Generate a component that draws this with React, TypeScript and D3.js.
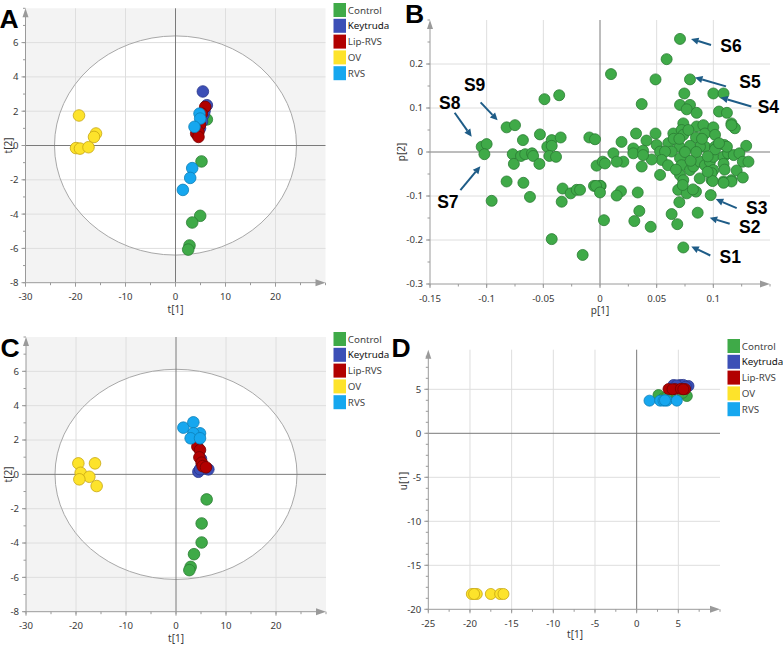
import React from "react";
import * as d3 from "d3";

type Pt = [number, number];

const groups = ["Control", "Keytruda", "Lip-RVS", "OV", "RVS"];
const groupFill = ["#3faa48", "#3c4fb6", "#b20000", "#fde32b", "#16a7ef"];
const groupStroke = ["#2b7c33", "#27358a", "#760000", "#c7a612", "#0d7fb8"];

// Scores, model 1 (t[1], t[2])
const scoresA_Control: Pt[] = [[6.27, 1.52], [5.2, -0.93], [4.94, -4.1], [3.34, -4.49], [2.8, -5.83], [2.54, -6.07]];
const scoresA_Keytruda: Pt[] = [[5.47, 3.15], [6.27, 2.35], [5.6, 1.8], [5.3, 1.4], [5.8, 2.0], [4.9, 1.0]];
const scoresA_LipRVS: Pt[] = [[5.94, 2.25], [5.27, 1.86], [4.9, 1.2], [4.14, 0.7], [4.6, 0.8], [4.6, 0.5]];
const scoresA_OV: Pt[] = [[-19.3, 1.75], [-15.9, 0.7], [-16.3, 0.5], [-19.9, -0.15], [-19.1, -0.18], [-17.4, -0.1]];
const scoresA_RVS: Pt[] = [[4.8, 1.86], [4.94, 1.57], [3.8, 1.09], [3.34, -1.32], [2.94, -1.89], [1.47, -2.59]];

// Scores, model 2 (t[1], t[2])
const scoresC_Control: Pt[] = [[6.13, -1.46], [5.13, -2.86], [5.13, -3.97], [3.6, -4.65], [2.93, -5.39], [2.67, -5.58]];
const scoresC_Keytruda: Pt[] = [[4.47, 0.15], [6.47, 0.29], [5.2, 0.6], [5.6, 0.35], [5.0, 0.9], [4.8, 0.3]];
const scoresC_LipRVS: Pt[] = [[4.27, 1.61], [4.8, 1.42], [4.67, 0.99], [5.13, 0.68], [5.33, 0.48], [6.0, 0.41]];
const scoresC_OV: Pt[] = [[-19.53, 0.64], [-16.2, 0.64], [-19.07, 0.09], [-17.33, -0.14], [-19.33, -0.29], [-15.87, -0.68]];
const scoresC_RVS: Pt[] = [[1.47, 2.72], [3.47, 3.03], [4.8, 2.39], [3.47, 2.39], [2.93, 2.1], [4.8, 2.1]];

// t[1] vs u[1]
const scoresD_Control: Pt[] = [[2.62, 4.35], [6.02, 4.24], [3.22, 3.98], [4.0, 4.5], [5.5, 4.6], [3.6, 4.1]];
const scoresD_Keytruda: Pt[] = [[4.42, 5.49], [5.22, 5.49], [6.22, 5.38], [5.6, 5.5], [4.8, 5.45], [5.9, 5.3]];
const scoresD_LipRVS: Pt[] = [[3.82, 5.03], [4.62, 5.03], [5.82, 5.03], [4.3, 5.0], [5.3, 5.05], [5.6, 5.0]];
const scoresD_OV: Pt[] = [[-19.78, -18.26], [-19.18, -18.26], [-17.5, -18.26], [-16.38, -18.26], [-15.98, -18.26], [-19.5, -18.26]];
const scoresD_RVS: Pt[] = [[1.54, 3.71], [2.82, 3.71], [3.22, 3.71], [3.62, 3.71], [4.82, 3.71], [3.4, 3.75]];

// Loadings (p[1], p[2])
const loadings: Pt[] = [
  [-0.1044, 0.012], [-0.1, 0.018], [-0.102, -0.005], [-0.0956, -0.111], [-0.0824, 0.056], [-0.075, 0.061],
  [-0.077, -0.005], [-0.076, -0.027], [-0.068, 0.027], [-0.0697, -0.009], [-0.066, -0.005], [-0.06, -0.003],
  [-0.059, -0.009], [-0.0535, -0.027], [-0.053, 0.04], [-0.049, 0.12], [-0.036, 0.129], [-0.0465, 0.012],
  [-0.0426, 0.027], [-0.0426, 0.014], [-0.0447, -0.009], [-0.0388, -0.011], [-0.0347, 0.033], [-0.0824, -0.067],
  [-0.0676, -0.07], [-0.0618, -0.102], [-0.033, -0.083], [-0.0338, -0.113], [-0.0259, -0.094], [-0.0206, -0.086],
  [-0.0426, -0.198], [-0.0153, -0.234], [-0.0094, 0.033], [-0.0044, 0.029], [-0.003, -0.031], [0.0024, -0.022],
  [-0.0053, -0.077], [0.0006, -0.077], [-0.0176, -0.086], [0.0035, -0.155],
  [0.0706, 0.257], [0.0588, 0.211], [0.0097, 0.177], [0.049, 0.165], [0.0794, 0.165], [0.0368, 0.109],
  [0.0744, 0.133], [0.0706, 0.107], [0.0794, 0.107], [0.0765, 0.097], [0.0853, 0.089], [0.1, 0.133],
  [0.109, 0.133], [0.105, 0.092], [0.112, 0.089], [0.116, 0.065], [0.119, 0.054], [0.019, 0.023],
  [0.0318, 0.042], [0.049, 0.042], [0.041, 0.026], [0.0294, 0.008], [0.0294, -0.003], [0.038, 0.003],
  [0.05, 0.016], [0.053, 0.001], [0.0603, 0.02], [0.0647, 0.042], [0.0735, 0.065], [0.072, 0.05],
  [0.0735, 0.039], [0.0853, 0.058], [0.0912, 0.061], [0.0847, 0.033], [0.0926, 0.042], [0.1, 0.056],
  [0.1015, 0.039], [0.1097, 0.016], [0.0926, 0.012], [0.1015, 0.012], [0.0882, 0.012], [0.0794, 0.014],
  [0.07, 0.012], [0.0632, 0.001], [0.0574, 0.001], [0.0544, -0.018], [0.0456, -0.017], [0.038, -0.007],
  [0.0206, -0.022], [0.0118, -0.003], [0.0147, -0.022], [0.0044, -0.026], [0.0368, -0.033], [0.053, -0.052],
  [0.0706, -0.014], [0.072, -0.03], [0.0706, -0.052], [0.0735, -0.064], [0.0794, -0.041], [0.0824, -0.033],
  [0.0882, -0.022], [0.0926, -0.03], [0.097, -0.022], [0.1, -0.041], [0.0985, -0.064], [0.1, -0.011],
  [0.109, -0.011], [0.113, -0.003], [0.109, -0.067], [0.116, -0.064], [0.069, -0.086], [0.0765, -0.094],
  [0.0847, -0.09], [0.0977, -0.098], [0.07, -0.114], [0.0862, -0.138], [0.0632, -0.141], [0.0682, -0.164],
  [0.0447, -0.17], [0.0347, -0.134], [0.0303, -0.157], [0.0333, -0.092], [0.0185, -0.089], [0.0147, -0.099],
  [0, -0.077], [-0.0035, -0.077], [0, -0.092], [0.0735, -0.217],
  [0.129, 0.014], [0.116, 0.061], [0.118, -0.007], [0.123, -0.003], [0.126, -0.022], [0.131, -0.022],
  [0.1206, -0.042], [0.126, -0.058], [0.116, -0.067], [0.109, -0.07], [0.112, 0.012], [0.1015, 0.006],
  [0.0985, -0.048], [0.0994, -0.066], [0.109, -0.027],
  [0.065, 0.03], [0.075, 0.0], [0.08, -0.02], [0.085, 0.0], [0.06, -0.03], [0.09, 0.03], [0.095, -0.01],
  [0.07, 0.03], [0.078, 0.05], [0.067, -0.04], [0.105, 0.02], [0.11, -0.04], [0.088, -0.06], [0.095, -0.045],
  [0.073, -0.075], [0.082, -0.085],
];

// Highlighted loadings
const highlightNames = ["S1", "S2", "S3", "S4", "S5", "S6", "S7", "S8", "S9"];
const highlightPoints: Pt[] = [
  [0.0735, -0.217], [0.0862, -0.138], [0.0977, -0.098], [0.1, 0.133], [0.0794, 0.165],
  [0.0706, 0.257], [-0.102, -0.005], [-0.1044, 0.012], [-0.0824, 0.056],
];
// arrow tip, arrow tail, label centre as pixel offsets from the marked point
const highlightLayout: { tip: Pt; tail: Pt; text: Pt }[] = [
  { tip: [8, -1], tail: [27, 8], text: [47, 9] },
  { tip: [12, 5], tail: [32, 11], text: [52, 13.5] },
  { tip: [5, 4], tail: [26, 13], text: [46, 12.5] },
  { tip: [7, 4], tail: [38, 13], text: [55, 13] },
  { tip: [5, -2], tail: [36, 7], text: [60, 2] },
  { tip: [11, 0], tail: [31, 6], text: [51, 7] },
  { tip: [-4, 12], tail: [-24, 36], text: [-36.5, 47] },
  { tip: [-10, -10], tail: [-27, -34], text: [-32, -44] },
  { tip: [-9, -7], tail: [-26, -25], text: [-32, -43] },
];

const range = (a: number, b: number, s: number) => d3.range(a, b + s / 2, s).map((v) => +v.toFixed(6));

const FONT = "'Noto Sans', 'Open Sans', sans-serif";

interface AxisSpec {
  domain: [number, number];
  range: [number, number];
  major: number[];
  minor: number[];
  grid: number[];
  fmt: (v: number) => string;
  label: string;
  labelPos: Pt;
}

interface Series { data: Pt[]; fill: string; stroke: string }

function Panel(props: {
  x: AxisSpec;
  y: AxisSpec;
  shaded?: boolean;
  ellipse?: Pt;
  series: Series[];
  r: number;
  children?: React.ReactNode;
}) {
  const { x, y, shaded, ellipse, series, r } = props;
  const xs = d3.scaleLinear().domain(x.domain).range(x.range);
  const ys = d3.scaleLinear().domain(y.domain).range(y.range);
  const [x0, x1] = x.range;
  const [yB, yT] = y.range;
  const axisCol = "#9a9a9a";
  const gridCol = "#dedede";
  const zeroCol = "#7a7a7a";
  return (
    <g>
      {shaded && <rect x={x0} y={yT} width={x1 - x0} height={yB - yT} fill="#f3f3f3" />}
      {ellipse && (
        <ellipse cx={xs(0)} cy={ys(0)} rx={xs(ellipse[0]) - xs(0)} ry={ys(0) - ys(ellipse[1])} fill="#ffffff" />
      )}
      {x.grid.map((v) => (
        <line key={"gx" + v} x1={xs(v)} x2={xs(v)} y1={yB} y2={yT} stroke={gridCol} strokeWidth={1} />
      ))}
      {y.grid.map((v) => (
        <line key={"gy" + v} x1={x0} x2={x1} y1={ys(v)} y2={ys(v)} stroke={gridCol} strokeWidth={1} />
      ))}
      {ellipse && (
        <ellipse cx={xs(0)} cy={ys(0)} rx={xs(ellipse[0]) - xs(0)} ry={ys(0) - ys(ellipse[1])} fill="none" stroke="#a8a8a8" strokeWidth={1} />
      )}
      <line x1={xs(0)} x2={xs(0)} y1={yB} y2={yT} stroke={zeroCol} strokeWidth={1} />
      <line x1={x0} x2={x1} y1={ys(0)} y2={ys(0)} stroke={zeroCol} strokeWidth={1} />
      {/* axes */}
      <line x1={x0} x2={x1 - 4} y1={yB} y2={yB} stroke={axisCol} strokeWidth={1} />
      <polygon points={`${x1},${yB} ${x1 - 10},${yB - 3.5} ${x1 - 10},${yB + 3.5}`} fill={axisCol} />
      <line x1={x0} x2={x0} y1={yB} y2={yT + 4} stroke={axisCol} strokeWidth={1} />
      <polygon points={`${x0},${yT} ${x0 - 3},${yT + 9} ${x0 + 3},${yT + 9}`} fill={axisCol} />
      {x.minor.map((v) => (
        <line key={"mx" + v} x1={xs(v)} x2={xs(v)} y1={yB} y2={yB + 2.5} stroke={axisCol} />
      ))}
      {x.major.map((v) => (
        <line key={"tx" + v} x1={xs(v)} x2={xs(v)} y1={yB} y2={yB + 4} stroke={axisCol} />
      ))}
      {y.minor.map((v) => (
        <line key={"my" + v} x1={x0 - 2.5} x2={x0} y1={ys(v)} y2={ys(v)} stroke={axisCol} />
      ))}
      {y.major.map((v) => (
        <line key={"ty" + v} x1={x0 - 4} x2={x0} y1={ys(v)} y2={ys(v)} stroke={axisCol} />
      ))}
      {x.major.map((v) => (
        <text key={"lx" + v} x={xs(v)} y={yB + 17.5} fontSize={9.6} fill="#3a3a3a" textAnchor="middle" fontFamily={FONT}>
          {x.fmt(v)}
        </text>
      ))}
      {y.major.map((v) => (
        <text key={"ly" + v} x={x0 - 7} y={ys(v) + 3.4} fontSize={9.6} fill="#3a3a3a" textAnchor="end" fontFamily={FONT}>
          {y.fmt(v)}
        </text>
      ))}
      <text x={x.labelPos[0]} y={x.labelPos[1]} fontSize={10} fill="#3a3a3a" textAnchor="middle" fontFamily={FONT}>
        {x.label}
      </text>
      <text
        transform={`translate(${y.labelPos[0]},${y.labelPos[1]}) rotate(-90)`}
        fontSize={10}
        fill="#3a3a3a"
        textAnchor="middle"
        fontFamily={FONT}
      >
        {y.label}
      </text>
      {series.map((s, si) => (
        <g key={"s" + si}>
          {s.data.map((p, i) => (
            <circle key={i} cx={xs(p[0])} cy={ys(p[1])} r={r} fill={s.fill} stroke={s.stroke} strokeWidth={0.8} />
          ))}
        </g>
      ))}
      {props.children}
    </g>
  );
}

function Legend({ x, y }: { x: number; y: number }) {
  return (
    <g>
      {groups.map((g, i) => (
        <g key={g} transform={`translate(${x},${y + i * 15.8})`}>
          <rect x={0} y={-7} width={12.5} height={14} fill={groupFill[i]} />
          <text x={14.3} y={3.6} fontSize={9.8} fill={i === 1 ? "#111" : "#444"} fontFamily={FONT}>
            {g}
          </text>
        </g>
      ))}
    </g>
  );
}

const seriesOf = (sets: Pt[][]): Series[] =>
  sets.map((d, i) => ({ data: d, fill: groupFill[i], stroke: groupStroke[i] }));

const fmtInt = (v: number) => String(v);

export default function App() {
  // model 1 score plot
  const axA_x: AxisSpec = {
    domain: [-30, 30], range: [25.5, 325.5], major: range(-30, 20, 10), minor: range(-30, 30, 5),
    grid: [-20, -10, 10, 20], fmt: fmtInt, label: "t[1]", labelPos: [175.5, 313],
  };
  const axA_y: AxisSpec = {
    domain: [-8, 8], range: [282.7, 8.3], major: range(-8, 6, 2), minor: range(-8, 8, 1),
    grid: [-6, -4, -2, 2, 4, 6], fmt: fmtInt, label: "t[2]", labelPos: [12, 145.5],
  };
  const axC_x: AxisSpec = { ...axA_x, range: [26, 326], labelPos: [176, 642] };
  const axC_y: AxisSpec = { ...axA_y, range: [611.7, 337], labelPos: [12, 474.5] };

  const axB_x: AxisSpec = {
    domain: [-0.15, 0.15], range: [430, 770], major: range(-0.15, 0.1, 0.05), minor: range(-0.15, 0.15, 0.025),
    grid: [-0.1, -0.05, 0.05, 0.1], fmt: (v) => (v === 0 ? "0" : String(+v.toFixed(2))), label: "p[1]", labelPos: [600, 314],
  };
  const axB_y: AxisSpec = {
    domain: [-0.3, 0.3], range: [284, 20], major: range(-0.3, 0.2, 0.1), minor: range(-0.3, 0.3, 0.05),
    grid: [-0.2, -0.1, 0.1, 0.2], fmt: (v) => (v === 0 ? "0" : String(+v.toFixed(1))), label: "p[2]", labelPos: [405, 152],
  };

  const axD_x: AxisSpec = {
    domain: [-25, 10], range: [428.3, 720], major: range(-25, 5, 5), minor: range(-25, 10, 2.5),
    grid: [-20, -15, -10, -5, 5], fmt: fmtInt, label: "t[1]", labelPos: [575, 638],
  };
  const axD_y: AxisSpec = {
    domain: [-20, 9.5], range: [609.3, 349.7], major: range(-20, 5, 5), minor: range(-20, 8.75, 1.25),
    grid: [-15, -10, -5, 5], fmt: fmtInt, label: "u[1]", labelPos: [406.5, 481],
  };

  const bx = d3.scaleLinear().domain(axB_x.domain).range(axB_x.range);
  const by = d3.scaleLinear().domain(axB_y.domain).range(axB_y.range);
  const arrowCol = "#1e5c87";

  const panelLetter = (t: string, x: number, y: number) => (
    <text x={x} y={y} fontSize={26.5} fontWeight="bold" fontFamily="'Liberation Sans', Arial, sans-serif" fill="#000">
      {t}
    </text>
  );

  return (
    <svg width={783} height={645} style={{ position: "absolute", left: 0, top: 0, background: "#fff" }}>
      <rect width={783} height={645} fill="#fff" />
      <Panel x={axA_x} y={axA_y} shaded ellipse={[24.2, 6.39]} r={5.8}
        series={seriesOf([scoresA_Control, scoresA_Keytruda, scoresA_LipRVS, scoresA_OV, scoresA_RVS])} />
      <Legend x={333.5} y={10} />

      <Panel x={axB_x} y={axB_y} r={5.5}
        series={[{ data: loadings, fill: groupFill[0], stroke: groupStroke[0] }]}>
        {highlightPoints.map((p, i) => {
          const px = bx(p[0]);
          const py = by(p[1]);
          const L = highlightLayout[i];
          const tx = px + L.tip[0], ty = py + L.tip[1];
          const sx = px + L.tail[0], sy = py + L.tail[1];
          const ang = Math.atan2(ty - sy, tx - sx);
          const hl = 7.5, hw = 3.6;
          const bxp = tx - hl * Math.cos(ang), byp = ty - hl * Math.sin(ang);
          const nx = -Math.sin(ang) * hw, ny = Math.cos(ang) * hw;
          return (
            <g key={highlightNames[i]}>
              <line x1={sx} y1={sy} x2={bxp} y2={byp} stroke={arrowCol} strokeWidth={2} />
              <polygon points={`${tx},${ty} ${bxp + nx},${byp + ny} ${bxp - nx},${byp - ny}`} fill={arrowCol} />
              <text x={px + L.text[0]} y={py + L.text[1] + 6.3} fontSize={17.5} fontWeight="bold" textAnchor="middle"
                fontFamily="'Liberation Sans', Arial, sans-serif" fill="#000">
                {highlightNames[i]}
              </text>
            </g>
          );
        })}
      </Panel>

      <Panel x={axC_x} y={axC_y} shaded ellipse={[24.2, 6.12]} r={5.8}
        series={seriesOf([scoresC_Control, scoresC_Keytruda, scoresC_LipRVS, scoresC_OV, scoresC_RVS])} />
      <Legend x={333.5} y={339} />

      <Panel x={axD_x} y={axD_y} r={5.5}
        series={seriesOf([scoresD_Control, scoresD_Keytruda, scoresD_LipRVS, scoresD_OV, scoresD_RVS])} />
      <Legend x={727.5} y={346} />

      {panelLetter("A", -0.5, 28.3)}
      {panelLetter("B", 405, 23.3)}
      {panelLetter("C", 0.5, 356.5)}
      {panelLetter("D", 391.5, 356.5)}
    </svg>
  );
}
